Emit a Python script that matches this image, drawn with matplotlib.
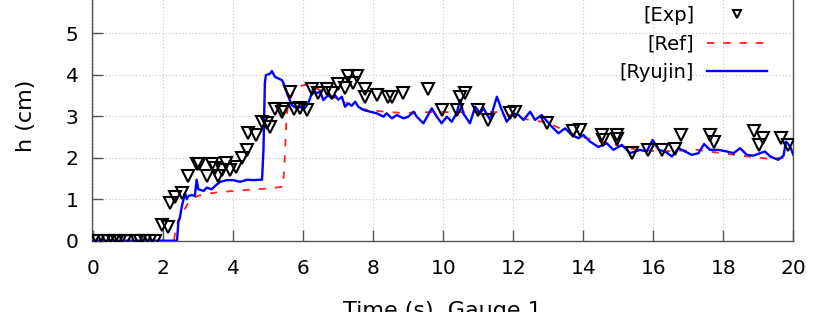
import matplotlib
matplotlib.use('Agg')
import matplotlib.pyplot as plt
import numpy as np

# 实验数据 (Exp)
exp_t = [0.0, 0.14, 0.29, 0.43, 0.57, 0.67, 0.76, 0.9, 1.24, 1.33, 1.48, 1.62, 1.76,
         1.95, 2.14, 2.19, 2.34, 2.53, 2.71, 2.96, 3.03, 3.24, 3.39, 3.48, 3.57, 3.67,
         3.79, 3.89, 4.08, 4.25, 4.39, 4.43, 4.65, 4.81, 4.95, 5.06, 5.2, 5.38, 5.43,
         5.62, 5.74, 5.91, 6.11, 6.25, 6.42, 6.68, 6.82, 6.99, 7.19, 7.28, 7.42, 7.53,
         7.76, 7.76, 8.1, 8.42, 8.53, 8.85, 9.56, 9.96, 10.39, 10.48, 10.62, 10.99,
         11.28, 11.91, 12.05, 12.97, 13.71, 13.91, 14.54, 14.56, 14.96, 14.96, 15.39,
         15.85, 16.25, 16.62, 16.79, 17.62, 17.74, 18.88, 19.02, 19.14, 19.65, 19.85]
exp_h = [0, 0, 0, 0, 0, 0, 0, 0, 0, 0, 0, 0, 0,
         0.38, 0.34, 0.92, 1.06, 1.16, 1.55, 1.85, 1.85, 1.55, 1.85, 1.75, 1.55, 1.7,
         1.88, 1.7, 1.78, 2.0, 2.19, 2.6, 2.55, 2.86, 2.84, 2.74, 3.18, 3.1, 3.18,
         3.58, 3.17, 3.19, 3.15, 3.65, 3.56, 3.65, 3.56, 3.77, 3.68, 3.97, 3.8, 3.97,
         3.65, 3.46, 3.51, 3.46, 3.46, 3.56, 3.65, 3.15, 3.15, 3.46, 3.56, 3.15,
         2.91, 3.08, 3.1, 2.84, 2.64, 2.67, 2.55, 2.43, 2.55, 2.45, 2.12,
         2.19, 2.19, 2.2, 2.55, 2.55, 2.38, 2.64, 2.31, 2.47, 2.47, 2.31]

# 参考解 (Ref)
ref_t = [0, 2.3, 2.34, 2.43, 2.62, 2.76, 2.95, 3.2, 3.5, 4.0, 4.5, 5.0, 5.42, 5.47,
         5.52, 5.57, 5.72, 5.9, 6.05, 6.25, 6.55, 6.9, 7.3, 7.7, 8.2, 8.8, 9.7, 10.5,
         11.05, 11.6, 12.2, 12.95, 13.86, 14.7, 15.5, 16.2, 17.24, 18.5, 19.24, 19.95]
ref_h = [0, 0, 0.2, 0.5, 0.78, 0.98, 1.07, 1.13, 1.16, 1.2, 1.23, 1.26, 1.3, 2.0,
         3.0, 3.3, 3.6, 3.72, 3.76, 3.72, 3.6, 3.45, 3.3, 3.17, 3.12, 3.08, 3.1, 3.1,
         3.1, 3.1, 2.95, 2.85, 2.52, 2.35, 2.2, 2.15, 2.19, 2.05, 1.98, 2.0]

# 计算结果 (Ryujin)
ryu_t = [0, 2.39, 2.43, 2.47, 2.52, 2.62, 2.67, 2.72, 2.81, 2.9, 2.95, 3.0, 3.15,
         3.24, 3.38, 3.48, 3.62, 3.81, 4.0, 4.19, 4.4, 4.57, 4.76, 4.82, 4.86, 4.9,
         4.93, 5.05, 5.1, 5.19, 5.39, 5.43, 5.53, 5.67, 5.81, 5.91, 6.0, 6.14, 6.28,
         6.38, 6.48, 6.57, 6.71, 6.81, 6.91, 7.0, 7.1, 7.19, 7.29, 7.38, 7.48, 7.57,
         7.72, 7.91, 8.1, 8.29, 8.38, 8.53, 8.67, 8.86, 9.0, 9.15, 9.24, 9.43, 9.67,
         9.81, 9.95, 10.1, 10.24, 10.38, 10.48, 10.57, 10.76, 10.91, 11.05, 11.15,
         11.34, 11.43, 11.53, 11.67, 11.81, 12.0, 12.15, 12.29, 12.48, 12.62, 12.81,
         13.05, 13.29, 13.48, 13.67, 13.86, 14.0, 14.19, 14.43, 14.67, 14.86, 15.1,
         15.34, 15.62, 15.81, 15.98, 16.15, 16.34, 16.53, 16.72, 16.91, 17.1, 17.29,
         17.45, 17.62, 17.86, 18.1, 18.29, 18.48, 18.67, 18.86, 19.05, 19.19, 19.34,
         19.57, 19.72, 19.79, 19.91, 20.0]
ryu_h = [0, 0, 0.46, 0.54, 0.8, 1.15, 1.0, 1.08, 1.1, 1.08, 1.47, 1.24, 1.2,
         1.28, 1.24, 1.32, 1.42, 1.46, 1.46, 1.42, 1.47, 1.46, 1.47, 1.47, 2.19, 3.8,
         3.99, 4.03, 4.09, 3.95, 3.87, 3.8, 3.56, 3.27, 3.19, 3.23, 3.15, 3.31, 3.65,
         3.55, 3.6, 3.39, 3.51, 3.43, 3.5, 3.4, 3.47, 3.23, 3.31, 3.25, 3.35, 3.23,
         3.15, 3.11, 3.07, 2.99, 3.07, 2.95, 3.03, 2.95, 2.99, 3.11, 2.99, 2.83, 3.19,
         2.99, 2.83, 2.99, 2.87, 3.07, 3.39, 3.07, 2.83, 3.23, 3.07, 3.19,
         2.91, 3.19, 3.47, 3.15, 2.87, 3.07, 3.03, 2.91, 3.11, 2.91, 3.03,
         2.79, 2.59, 2.71, 2.55, 2.47, 2.55, 2.39, 2.26, 2.35, 2.19, 2.31,
         2.11, 2.19, 2.15, 2.43, 2.19, 2.15, 2.03, 2.23, 2.15, 2.07, 2.11,
         2.33, 2.19, 2.19, 2.15, 2.11, 2.23, 2.07, 2.05, 2.11, 2.15, 2.03,
         1.95, 2.05, 2.39, 2.27, 2.07]

plt.rcParams['font.family'] = ['DejaVu Sans']
edge = '#555555'

fig = plt.figure(figsize=(8.37, 3.12), dpi=100)
ax = fig.add_axes([0.1103, 0.2285, 0.8375, 0.7978])

ax.plot(exp_t, exp_h, linestyle='none', marker='v', markersize=8.5,
        markerfacecolor='none', markeredgecolor='black', markeredgewidth=1.5,
        label='[Exp]', zorder=4)
ax.plot(ref_t, ref_h, color='#ff2020', linewidth=1.3, dashes=(4, 5),
        label='[Ref]', zorder=2)
ax.plot(ryu_t, ryu_h, color='#0000ff', linewidth=1.7, label='[Ryujin]', zorder=3)

ax.set_xlim(-0.03, 20)
ax.set_ylim(0, 6)
ax.set_xticks(np.arange(0, 21, 2))
ax.set_yticks(np.arange(0, 7, 1))

ax.grid(True, color='#c8c8c8', linestyle=(0, (1, 2)), linewidth=0.8)
ax.set_axisbelow(True)
for s in ax.spines.values():
    s.set_color(edge)
    s.set_linewidth(1.0)
ax.tick_params(direction='in', length=8, width=1, color=edge,
               labelsize=14.5, labelcolor='black')
ax.tick_params(axis='x', pad=13)
ax.tick_params(axis='y', pad=10)

ax.set_xlabel('Time (s), Gauge 1', fontsize=16, labelpad=17)
ax.set_ylabel('h (cm)', fontsize=16, labelpad=21)

leg = ax.legend(loc='upper right', bbox_to_anchor=(767 / 837, 1 - 6 / 312),
                bbox_transform=fig.transFigure, frameon=False, markerfirst=False,
                fontsize=14, handlelength=3.1, handletextpad=0.65,
                labelspacing=0.48, borderpad=0, borderaxespad=0, markerscale=0.75)

fig.savefig('out.png', dpi=100)
